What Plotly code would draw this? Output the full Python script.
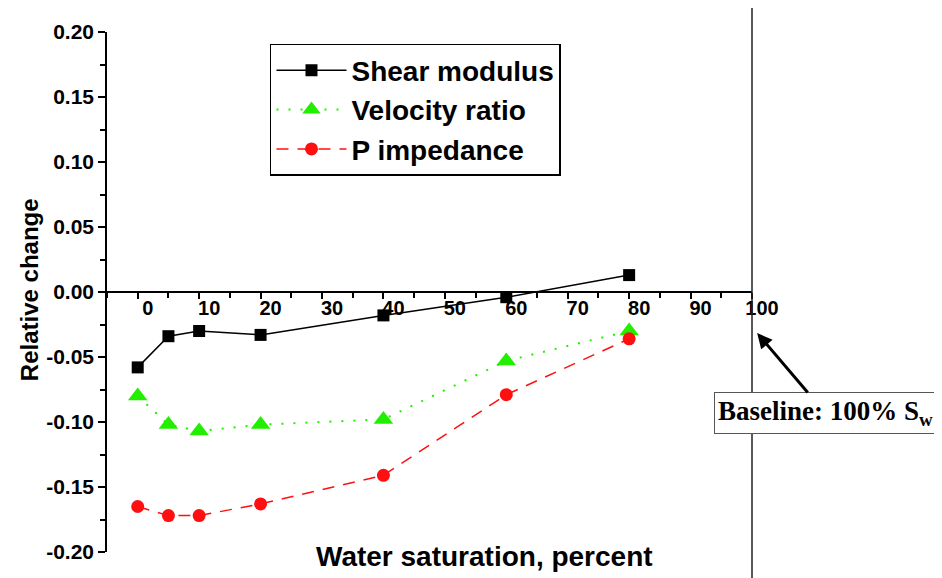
import plotly.graph_objects as go

# water saturation (percent)
saturation = [0, 5, 10, 20, 40, 60, 80]

# relative change vs. 100% Sw baseline
shear_modulus = [-0.058, -0.034, -0.030, -0.033, -0.018, -0.004, 0.013]
velocity_ratio = [-0.080, -0.102, -0.107, -0.102, -0.098, -0.053, -0.030]
p_impedance = [-0.165, -0.172, -0.172, -0.163, -0.141, -0.079, -0.036]

x_ticks = [0, 10, 20, 30, 40, 50, 60, 70, 80, 90, 100]
x_tick_labels = [str(v) for v in x_ticks]
y_ticks = [-0.20, -0.15, -0.10, -0.05, 0.00, 0.05, 0.10, 0.15, 0.20]
y_tick_labels = ['-0.20', '-0.15', '-0.10', '-0.05', '0.00', '0.05', '0.10', '0.15', '0.20']

sans = 'Liberation Sans, Arial, sans-serif'
serif = 'Liberation Serif, Times New Roman, serif'

fig = go.Figure()
fig.add_trace(go.Scatter(
    x=saturation, y=shear_modulus, name='Shear modulus', mode='lines+markers',
    line=dict(color='black', width=1.5),
    marker=dict(symbol='square', size=12, color='black'),
))
fig.add_trace(go.Scatter(
    x=saturation, y=velocity_ratio, name='Velocity ratio', mode='lines+markers',
    line=dict(color='#22ee00', width=2, dash='2px,10px'),
    marker=dict(symbol='triangle-up', size=17, color='#22ee00'),
))
fig.add_trace(go.Scatter(
    x=saturation, y=p_impedance, name='P impedance', mode='lines+markers',
    line=dict(color='#ff1010', width=1.5, dash='12px,9px'),
    marker=dict(symbol='circle', size=13, color='#ff1010'),
))

# the page adds an 8px body margin, so the margins are trimmed by 8px
fig.update_layout(
    width=942, height=578,
    margin=dict(l=99, r=198, t=24, b=34),
    plot_bgcolor='white', paper_bgcolor='white',
    font=dict(family=sans, color='black'),
    showlegend=True,
    legend=dict(
        x=0.2527, y=0.977, xanchor='left', yanchor='top',
        bgcolor='white', bordercolor='black', borderwidth=1.5,
        itemwidth=70,
        font=dict(family=sans, size=28, color='black', weight='bold'),
    ),
    xaxis=dict(
        range=[-5, 100], anchor='free', position=0.5,
        showline=True, linecolor='black', linewidth=1.5,
        showgrid=False, zeroline=False,
        tickmode='array', tickvals=x_ticks, ticktext=x_tick_labels,
        ticks='outside', ticklen=6, tickwidth=1.5, tickcolor='black',
        ticklabelshift=10, ticklabelstandoff=-8,
        minor=dict(tickmode='linear', tick0=0, dtick=5, ticks='outside',
                   ticklen=5, tickwidth=1.5, tickcolor='black'),
        tickfont=dict(family=sans, size=20, color='black', weight='bold'),
    ),
    yaxis=dict(
        range=[-0.2, 0.2],
        showline=True, linecolor='black', linewidth=1.5,
        showgrid=False, zeroline=False,
        tickmode='array', tickvals=y_ticks, ticktext=y_tick_labels,
        ticks='outside', ticklen=7, tickwidth=1.5, tickcolor='black',
        minor=dict(tickmode='linear', tick0=0, dtick=0.025, ticks='outside',
                   ticklen=5, tickwidth=1.5, tickcolor='black'),
        tickfont=dict(family=sans, size=21, color='black', weight='bold'),
    ),
)

# baseline line at 100% Sw
fig.add_shape(type='line', xref='paper', yref='paper', x0=1, x1=1, y0=-0.1, y1=1.1,
              line=dict(color='#222222', width=1.5))

# axis titles
fig.add_annotation(text='Water saturation, percent', xref='paper', yref='paper',
                   x=0.586, y=-0.008, xanchor='center', yanchor='middle', showarrow=False,
                   font=dict(family=sans, size=28, color='black', weight='bold'))
fig.add_annotation(text='Relative change', xref='paper', yref='paper',
                   x=-0.119, y=0.504, xanchor='center', yanchor='middle', showarrow=False,
                   textangle=-90,
                   font=dict(family=sans, size=24, color='black', weight='bold'))

# baseline label with arrow
fig.add_annotation(text='Baseline: 100% S<sub>w</sub>', x=1.008, y=0.421,
                   xref='paper', yref='paper', ax=68, ay=80,
                   showarrow=True, arrowhead=2, arrowsize=1, arrowwidth=3, arrowcolor='black',
                   bgcolor='white', bordercolor='#555555', borderwidth=1, borderpad=3,
                   font=dict(family=serif, size=27, color='black', weight='bold'))

fig.write_html('out.html')
